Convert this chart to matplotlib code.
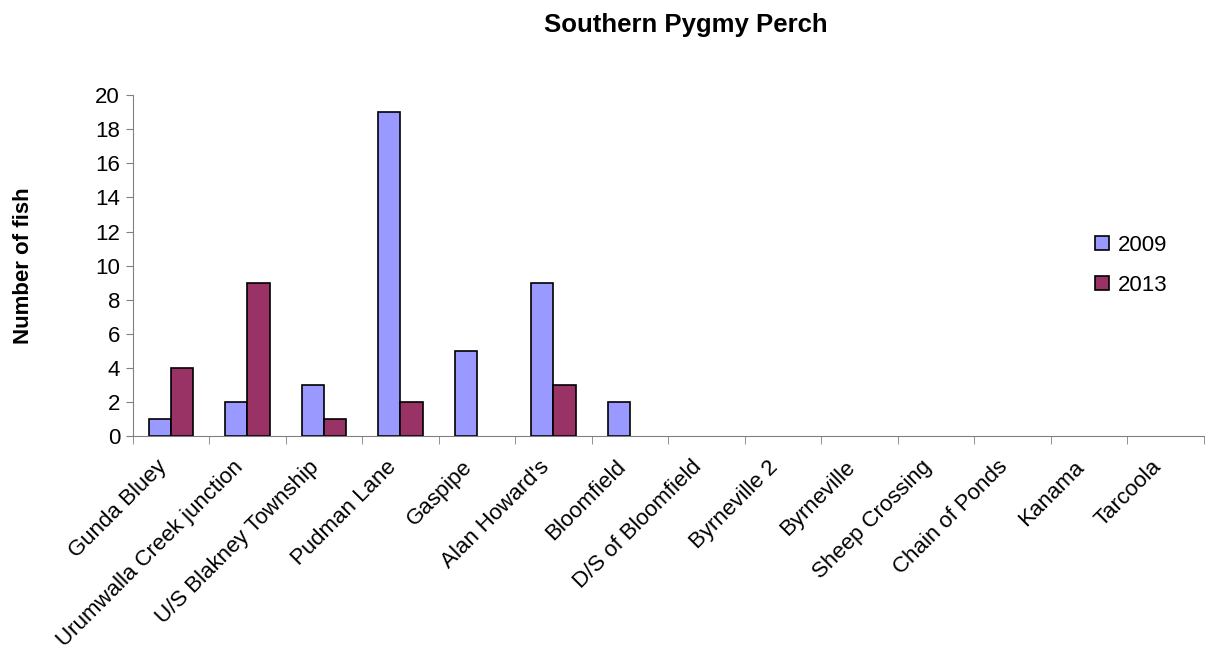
import numpy as np
import matplotlib
matplotlib.use("Agg")
import matplotlib.pyplot as plt
from matplotlib.transforms import ScaledTranslation

plt.rcParams["font.family"] = ["Liberation Sans", "DejaVu Sans"]

sites = [
    "Gunda Bluey", "Urumwalla Creek junction", "U/S Blakney Township", "Pudman Lane",
    "Gaspipe", "Alan Howard's", "Bloomfield", "D/S of Bloomfield", "Byrneville 2",
    "Byrneville", "Sheep Crossing", "Chain of Ponds", "Kanama", "Tarcoola",
]
fish_2009 = [1, 2, 3, 19, 5, 9, 2, 0, 0, 0, 0, 0, 0, 0]
fish_2013 = [4, 9, 1, 2, 0, 3, 0, 0, 0, 0, 0, 0, 0, 0]

fig = plt.figure(figsize=(12.05, 6.52), dpi=100)
ax = fig.add_axes([0.110, 0.331, 0.889, 0.523])

x = np.arange(len(sites))
w = 0.29
b1 = ax.bar(x - w / 2, fish_2009, w, color="#9999FF", edgecolor="black", linewidth=1.2, label="2009")
b2 = ax.bar(x + w / 2, fish_2013, w, color="#993366", edgecolor="black", linewidth=1.2, label="2013")
# hide empty bars (no flat outline for zero counts)
for bars, vals in [(b1, fish_2009), (b2, fish_2013)]:
    for rect, v in zip(bars, vals):
        if v == 0:
            rect.set_visible(False)

ax.set_xlim(-0.5, len(sites) - 0.5)
ax.set_ylim(0, 20)
ax.set_yticks(range(0, 21, 2))
ax.tick_params(axis="y", labelsize=16, length=5, direction="out", color="#808080", pad=4)

ax.set_xticks(x)
ax.set_xticklabels(sites, rotation=45, ha="right", rotation_mode="anchor", fontsize=16)
ax.tick_params(axis="x", length=0, pad=16)
ax.set_xticks(np.arange(-0.5, len(sites), 1.0), minor=True)
ax.tick_params(axis="x", which="minor", length=6, direction="out", color="#808080")
# nudge rotated labels so their ends sit just left of the category centre
shift = ScaledTranslation(-0.15, 0.02, fig.dpi_scale_trans)
for lbl in ax.get_xticklabels():
    lbl.set_transform(lbl.get_transform() + shift)

for s in ["top", "right"]:
    ax.spines[s].set_visible(False)
for s in ["left", "bottom"]:
    ax.spines[s].set_color("#808080")

ax.set_ylabel("Number of fish", fontsize=16, fontweight="bold")
ax.yaxis.set_label_coords(-0.092, 0.5)
fig.suptitle("Southern Pygmy Perch", x=0.569, y=0.98, fontsize=18.5, fontweight="bold")

ax.legend(loc="center left", bbox_to_anchor=(0.88, 0.5), frameon=False, fontsize=16,
          handlelength=0.6, handleheight=0.6, handletextpad=0.4, labelspacing=0.85)

fig.savefig("out.png", dpi=100)
